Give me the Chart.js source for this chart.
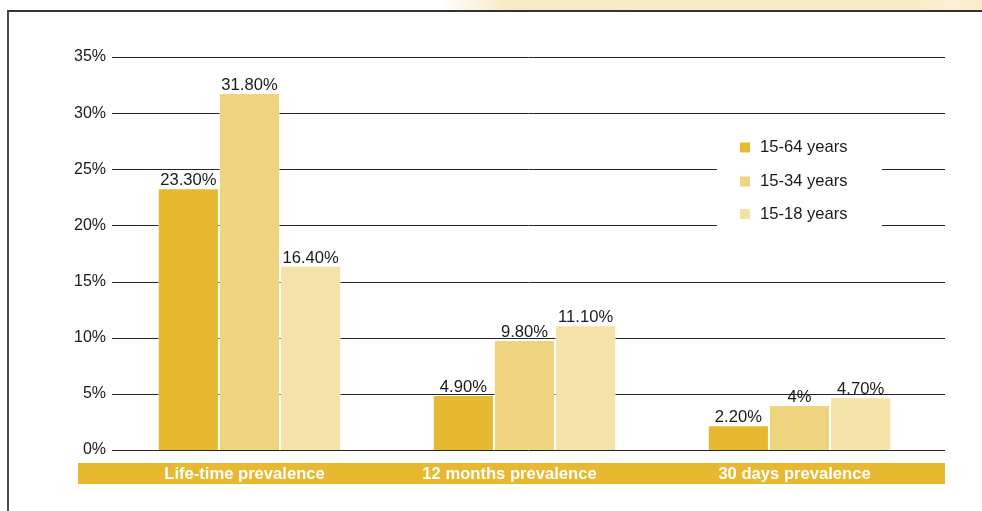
<!DOCTYPE html>
<html>
<head>
<meta charset="utf-8">
<script src="https://cdn.jsdelivr.net/npm/chart.js@4.4.0/dist/chart.umd.min.js"></script>
<style>
  html, body { margin: 0; padding: 0; background: #fff; }
  #wrap { position: relative; width: 982px; height: 511px; overflow: hidden; }
  #glow {
    position: absolute; left: 440px; top: 0; width: 560px; height: 10px;
    background: linear-gradient(90deg, rgba(248,233,192,0) 0%, #f8eac3 12%, #f9ebc6 85%, #fbf0d4 92%, #f8e8bf 100%);
  }
  #frame {
    position: absolute; left: 7px; top: 10px; width: 990px; height: 520px;
    border-top: 2px solid #333; border-left: 2px solid #4a4a4a;
  }
  canvas { position: absolute; left: 0; top: 0; }
</style>
</head>
<body>
<div id="wrap">
  <div id="glow"></div>
  <div id="frame"></div>
  <canvas id="chart" width="982" height="511"></canvas>
</div>
<script>
// ---- data ----
const categories = ["Life-time prevalence", "12 months prevalence", "30 days prevalence"];
const seriesNames = ["15-64 years", "15-34 years", "15-18 years"];
const age15to64 = [23.3, 4.9, 2.2];
const age15to34 = [31.8, 9.8, 4.0];
const age15to18 = [16.4, 11.1, 4.7];
const valueLabels = [
    ["23.30%", "4.90%", "2.20%"],
    ["31.80%", "9.80%", "4%"],
    ["16.40%", "11.10%", "4.70%"]
];
const yTicks = [0, 5, 10, 15, 20, 25, 30, 35];

const COLORS = ["#e6b930", "#efd47f", "#f5e2a9"];
const FONT = "'Liberation Sans', Arial, sans-serif";
const bandShift = [-5, -15, -5]; // band captions sit slightly left of the groups

Chart.defaults.font.family = FONT;
Chart.defaults.font.size = 16;
Chart.defaults.color = "#1a1a1a";

// gridlines run a bit past the last category, so draw them ourselves
const gridPlugin = {
    id: "grid",
    beforeDatasetsDraw(chart) {
        const { ctx, chartArea, scales } = chart;
        ctx.save();
        ctx.strokeStyle = "#262626";
        ctx.lineWidth = 1;
        yTicks.forEach(t => {
            const y = Math.round(scales.y.getPixelForValue(t)) + 0.5;
            ctx.beginPath();
            ctx.moveTo(chartArea.left, y);
            ctx.lineTo(945, y);
            ctx.stroke();
        });
        ctx.restore();
    }
};

const labelPlugin = {
    id: "labels",
    afterDatasetsDraw(chart) {
        const { ctx, chartArea, scales } = chart;
        ctx.save();

        // value labels above bars
        ctx.font = "16.6px " + FONT;
        ctx.fillStyle = "#1a1a1a";
        ctx.textAlign = "center";
        ctx.textBaseline = "alphabetic";
        chart.data.datasets.forEach((ds, i) => {
            chart.getDatasetMeta(i).data.forEach((bar, j) => {
                ctx.fillText(valueLabels[i][j], bar.x, bar.y - 3);
            });
        });

        // category band under the axis
        ctx.fillStyle = COLORS[0];
        ctx.fillRect(78, chartArea.bottom + 13, 945 - 78, 21);
        ctx.fillStyle = "#ffffff";
        ctx.font = "bold 16.6px " + FONT;
        ctx.textBaseline = "middle";
        categories.forEach((c, j) => {
            ctx.fillText(c, scales.x.getPixelForValue(j) + bandShift[j], chartArea.bottom + 24);
        });

        // legend box
        ctx.fillStyle = "#ffffff";
        ctx.fillRect(717, 126, 165, 106);
        const rows = [147.5, 181.5, 214];
        ctx.font = "16.6px " + FONT;
        ctx.textAlign = "left";
        seriesNames.forEach((name, i) => {
            ctx.fillStyle = COLORS[i];
            ctx.fillRect(740, rows[i] - 5, 10, 10);
            ctx.fillStyle = "#1a1a1a";
            ctx.fillText(name, 760, rows[i]);
        });
        ctx.restore();
    }
};

new Chart(document.getElementById("chart"), {
    type: "bar",
    data: {
        labels: categories,
        datasets: [
            { label: seriesNames[0], data: age15to64, backgroundColor: COLORS[0] },
            { label: seriesNames[1], data: age15to34, backgroundColor: COLORS[1] },
            { label: seriesNames[2], data: age15to18, backgroundColor: COLORS[2] }
        ]
    },
    options: {
        responsive: false,
        animation: false,
        layout: { padding: { top: 57, right: 45, bottom: 61, left: 0 } },
        datasets: {
            bar: {
                barPercentage: 1,
                categoryPercentage: 0.667,
                borderWidth: { top: 1, left: 1, right: 1, bottom: 0 },
                borderColor: "rgba(255,255,255,0.45)"
            }
        },
        scales: {
            x: { display: false },
            y: {
                min: 0,
                max: 35,
                afterFit: scale => { scale.width = 112; },
                afterBuildTicks: scale => { scale.ticks = yTicks.map(v => ({ value: v })); },
                grid: { display: false, drawTicks: false },
                border: { display: false },
                ticks: {
                    padding: 6,
                    color: "#1a1a1a",
                    font: { size: 16 },
                    callback: v => v + "%"
                }
            }
        },
        plugins: {
            legend: { display: false },
            tooltip: { enabled: false }
        }
    },
    plugins: [gridPlugin, labelPlugin]
});
</script>
</body>
</html>
